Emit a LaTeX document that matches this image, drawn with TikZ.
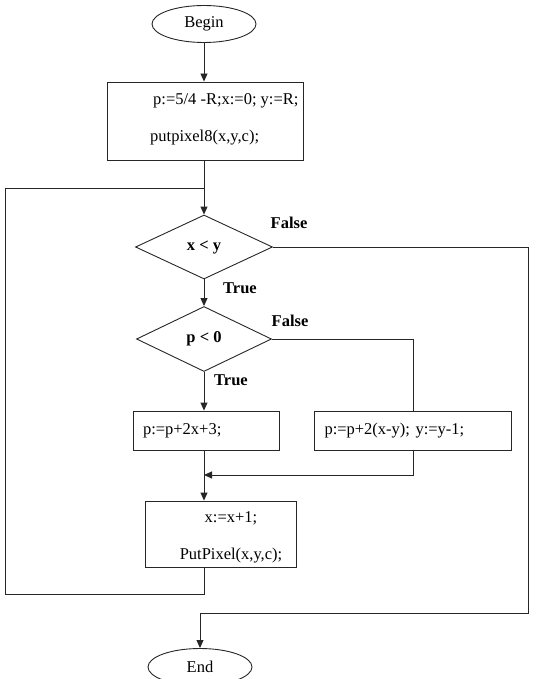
\documentclass[tikz,border=0pt]{standalone}
\usepackage{fontspec}
\setmainfont{Liberation Serif}
\usetikzlibrary{arrows.meta,shapes.geometric}
\newcommand{\flowfont}{\fontsize{16.5}{20}\selectfont}

\begin{document}
\begin{tikzpicture}[x=1pt,y=-1pt,>={Triangle[length=8pt,width=7pt]},
  ln/.style={draw=black!85,line width=0.9pt},
  term/.style={ellipse,ln,minimum width=104,minimum height=37,inner sep=0pt,font=\flowfont},
  box/.style={rectangle,ln,inner sep=0pt,font=\flowfont},
  stmt/.style={box,minimum height=39,inner xsep=10pt,align=left},
  test/.style={diamond,ln,inner sep=0pt,font=\flowfont\bfseries},
  lbl/.style={font=\flowfont\bfseries,inner sep=0pt}]
  \useasboundingbox (0,0) rectangle (537,679);
  % start and initialisation
  \node[term] (begin) at (204,24) {Begin};
  \node[box,minimum width=196,minimum height=78] (init) at (205,121) {};
  \node[font=\flowfont,align=left,anchor=west,inner sep=0pt] (initTxt) at (150,119)
    {\hspace*{3pt}p:=5/4 -R;x:=0; y:=R;\\[17pt]putpixel8(x,y,c);};
  % tests
  \node[test,minimum width=137,minimum height=64] (xy) at (204,247) {x < y};
  \node[test,minimum width=135,minimum height=65] (p0) at (204,339) {p < 0};
  \node[lbl] (f1) at (289,223) {False};
  \node[lbl] (t1) at (240,288) {True};
  \node[lbl] (f2) at (290,321) {False};
  \node[lbl] (t2) at (231,380) {True};
  % updates of p
  \node[stmt,text width=126] (inc) at (206,430.5) {p:=p+2x+3;};
  \node[stmt,text width=177] (dec) at (413,430.5) {p:=p+2(x-y); y:=y-1;};
  \node[box,minimum width=151,minimum height=66] (upd) at (220.5,534) {};
  \node[font=\flowfont,align=center,inner sep=0pt] (updTxt) at (231,537)
    {x:=x+1;\\[17pt]PutPixel(x,y,c);};
  \node[term] (end) at (200,667) {End};
  % corners of the connectors
  \coordinate (merge) at (204,475);
  \coordinate (loopBL) at (5,594);
  \coordinate (loopTL) at (5,188);
  \coordinate (outR) at (528,613);
  % connectors
  \draw[ln,->] (begin) -- (begin |- init.north);
  \draw[ln,->] (xy.north |- init.south) -- (xy.north);
  \draw[ln,->] (xy.south) -- (p0.north);
  \draw[ln,->] (p0.south) -- (p0.south |- inc.north);
  \draw[ln] (p0.east) -| (dec.north);
  \draw[ln,->] (dec.south) |- (merge);
  \draw[ln,->] (inc.south -| p0.south) -- (p0.south |- upd.north);
  \draw[ln] (upd.south -| xy.south) |- (loopBL) -- (loopTL) -- (loopTL -| xy.north);
  \draw[ln,->] (xy.east) -| (outR) -- (outR -| end.north) -- (end.north);
\end{tikzpicture}
\end{document}
